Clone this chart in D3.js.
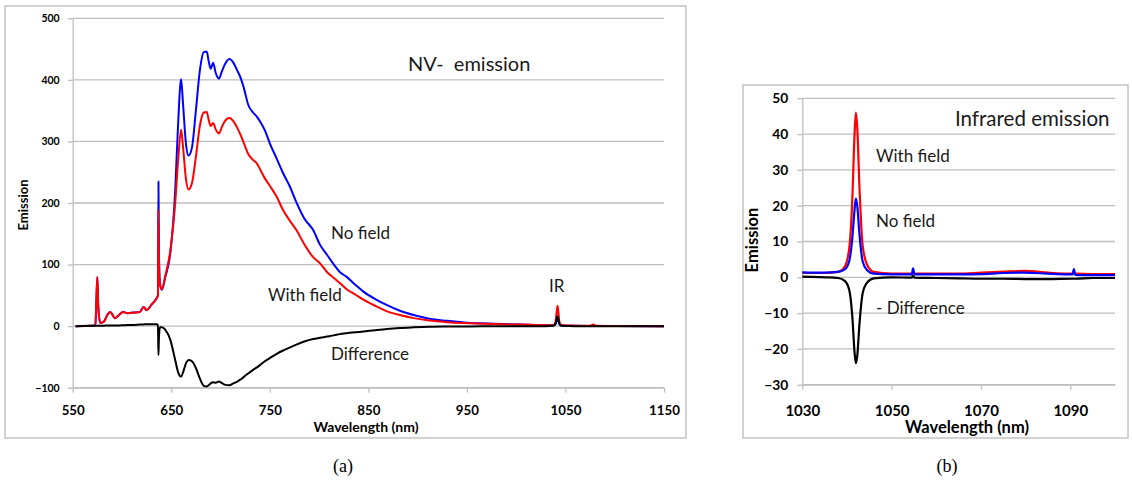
<!DOCTYPE html>
<html>
<head>
<meta charset="utf-8">
<script src="https://cdn.jsdelivr.net/npm/d3@7"></script>
<style>
  html, body { margin: 0; padding: 0; background: #fff; }
  svg { display: block; }
</style>
</head>
<body>
<svg id="chart" width="1132" height="485"></svg>
<script>
// ---------------- DATA: panel (a) NV- emission ----------------
const nvWavelength = [553, 570, 573, 574, 575, 576, 578, 582, 585, 588, 593, 597, 601, 606, 612, 618, 622, 625, 630, 635,
  636.5, 637, 637.5, 638.5, 640.5, 644, 649, 654, 657, 660, 662, 665, 667.5, 671, 675, 679, 683, 686, 688, 690,
  692.5, 695, 698.5, 701, 704, 709, 713, 717, 720, 724, 728, 733, 737, 741, 745, 750, 757, 763, 770, 777,
  785, 794, 801, 808, 815, 821, 828, 837, 845, 857, 869, 882, 896, 912, 930, 947, 965, 985, 1005, 1030,
  1038, 1040, 1042, 1044, 1046, 1060, 1075, 1078, 1081, 1100, 1150];
const nvNoField = [0, 0.5, 1, 40, 80, 30, 5, 8, 18, 23, 13, 18, 23, 21, 22, 23, 31, 26, 35, 45,
  50, 235, 120, 70, 59, 80, 118, 220, 330, 401, 360, 295, 277, 290, 350, 415, 445, 446, 430, 418,
  428, 412, 402, 412, 424, 434, 428, 415, 405, 385, 360, 347, 340, 330, 318, 297, 272, 250, 228, 201,
  175, 156, 132, 116, 100, 88, 80, 67, 56, 44, 34, 25, 18, 12, 8.6, 6, 4.5, 3.5, 2.5, 1.5,
  1.5, 3, 12, 3, 1, 0.5, 0.3, 0.3, 0.3, 0.2, 0];
const nvWithField = [0, 0.5, 1, 40, 80, 30, 5, 8, 18, 23, 13, 18, 23, 21, 22, 23, 31, 26, 35, 45,
  50, 189, 110, 68, 60, 82, 122, 200, 270, 319, 290, 238, 222, 232, 275, 325, 347, 348, 335, 325,
  330, 320, 313, 322, 332, 338, 333, 322, 312, 296, 280, 270, 264, 252, 240, 228, 210, 190, 172, 156,
  133, 112, 102, 88, 78, 70, 60, 51, 43, 33, 24, 18, 13, 9, 6.5, 5, 4, 3, 2.5, 1.5,
  2, 8, 33, 6, 1.5, 0.8, 0.5, 2.5, 0.5, 0.2, 0];
const nvDifference = [0, 0.5, 0.5, 0.5, 0.5, 0.5, 0.5, 0.8, 1, 1, 1, 1.2, 1.5, 1.8, 2, 2.5, 2.8, 3, 3, 3,
  2, -47, -20, -2, -2, -6, -22, -55, -75, -82, -75, -60, -55, -57, -68, -85, -97, -98, -96, -93,
  -91, -92, -90, -92, -95, -96, -93, -90, -87, -82, -77, -71, -67, -62, -57, -52, -45, -40, -35, -30,
  -25, -21, -19, -17, -15, -13, -11.5, -10, -8.7, -6.5, -4.5, -3, -2, -1.1, -0.7, -0.5, -0.3, -0.2, -0.1, 0,
  0.5, 5, 16, 3, 0.5, 0, 0, 0, 0, 0, 0];
const nvXTicks = [550, 650, 750, 850, 950, 1050, 1150];
const nvYTicks = [-100, 0, 100, 200, 300, 400, 500];

// ---------------- DATA: panel (b) Infrared emission ----------------
const irWavelength = [1030, 1035, 1038, 1039.5, 1040.5, 1041.2, 1041.7, 1042, 1042.3, 1042.8, 1043.5, 1044.5, 1046, 1050,
  1054.5, 1054.8, 1055.1, 1060, 1065, 1070, 1075, 1080, 1085, 1090.5, 1090.8, 1091.1, 1095, 1100];
const irWithField = [1.2, 1.2, 1.5, 3, 8, 22, 40, 46, 42, 25, 9, 3.5, 1.5, 1.0,
  1.0, 1.2, 1.0, 1.0, 1.0, 1.3, 1.6, 1.8, 1.3, 1.0, 1.2, 1.0, 0.9, 0.9];
const irNoField = [1.4, 1.3, 1.5, 2.2, 4.5, 11, 19, 22, 20, 12, 4.5, 2, 1.0, 0.8,
  0.8, 2.5, 0.8, 0.8, 0.8, 0.9, 1.2, 1.3, 1.0, 0.8, 2.3, 0.7, 0.6, 0.6];
const irMinusDifference = [0.2, 0, -0.2, -1, -3.5, -11, -21, -24, -22, -13, -4.5, -1.5, -0.3, 0,
  -0.1, 0.4, -0.1, -0.2, -0.3, -0.4, -0.4, -0.5, -0.5, -0.4, -0.4, -0.4, -0.2, -0.2];
const irXTicks = [1030, 1050, 1070, 1090];
const irYTicks = [-30, -20, -10, 0, 10, 20, 30, 40, 50];

// ---------------- STYLE ----------------
const FONT = "Lato, 'Open Sans', sans-serif";
const GRID = "#bfbfbf";
const FRAME = "#c4c4c4";
const BLUE = "#0000ff";
const RED = "#ff0000";

const svg = d3.select("#chart");

function panel(cfg) {
  const g = svg.append("g");
  // frame
  g.append("rect").attr("x", cfg.frame[0]).attr("y", cfg.frame[1])
    .attr("width", cfg.frame[2]).attr("height", cfg.frame[3])
    .attr("fill", "#fff").attr("stroke", FRAME).attr("stroke-width", 1.5);

  const x = d3.scaleLinear().domain(cfg.xDomain).range(cfg.xRange);
  const y = d3.scaleLinear().domain(cfg.yDomain).range(cfg.yRange);
  const fmt = d3.format("d");

  // grid lines
  g.append("g").selectAll("line").data(cfg.yTicks).join("line")
    .attr("x1", x.range()[0]).attr("x2", x.range()[1])
    .attr("y1", d => y(d)).attr("y2", d => y(d))
    .attr("stroke", GRID).attr("stroke-width", 1.3);

  // y axis
  const ya = g.append("g").attr("transform", `translate(${x.range()[0]},0)`)
    .call(d3.axisLeft(y).tickValues(cfg.yTicks).tickFormat(fmt).tickSize(cfg.tickLen).tickSizeOuter(0).tickPadding(cfg.yPad));
  ya.select(".domain").attr("stroke", GRID).attr("stroke-width", 1.3);
  ya.selectAll(".tick line").attr("stroke", GRID).attr("stroke-width", 1.3);
  ya.selectAll(".tick text").attr("font-family", FONT).attr("font-weight", 700)
    .attr("font-size", cfg.yFont).attr("fill", "#000");

  // x axis
  const xa = g.append("g").attr("transform", `translate(0,${y.range()[0]})`)
    .call(d3.axisBottom(x).tickValues(cfg.xTicks).tickFormat(fmt).tickSize(cfg.tickLen).tickSizeOuter(0));
  xa.select(".domain").attr("stroke", GRID).attr("stroke-width", 1.3);
  xa.selectAll(".tick line").attr("stroke", GRID).attr("stroke-width", 1.3);
  xa.selectAll(".tick text").attr("font-family", FONT).attr("font-weight", 700)
    .attr("font-size", cfg.xFont).attr("fill", "#000").attr("dy", null).attr("y", cfg.xLabelY);

  // axis titles
  g.append("text").attr("x", cfg.xTitle[0]).attr("y", cfg.xTitle[1])
    .attr("text-anchor", "middle").attr("font-family", FONT).attr("font-weight", 700)
    .attr("font-size", cfg.xTitleFont).attr("fill", "#000").text("Wavelength (nm)");
  g.append("text").attr("transform", `translate(${cfg.yTitle[0]},${cfg.yTitle[1]}) rotate(-90)`)
    .attr("text-anchor", "middle").attr("font-family", FONT).attr("font-weight", 700)
    .attr("font-size", cfg.yTitleFont).attr("fill", "#000").text("Emission");

  // series
  const plot = g.append("g");
  cfg.series.forEach(s => {
    const line = d3.line().x((d, i) => x(cfg.xs[i])).y(d => y(d)).curve(d3.curveMonotoneX);
    plot.append("path").datum(s.values).attr("d", line)
      .attr("fill", "none").attr("stroke", s.color).attr("stroke-width", s.width || 2)
      .attr("stroke-linejoin", "round");
  });

  // annotations
  cfg.notes.forEach(n => {
    g.append("text").attr("x", n.x).attr("y", n.y).attr("font-family", FONT)
      .attr("font-size", n.size).attr("fill", "#1a1a1a")
      .style("white-space", "pre").attr("xml:space", "preserve").text(n.text);
  });
}

panel({
  frame: [5, 6, 681, 432],
  xDomain: [550, 1150], xRange: [72.7, 664],
  yDomain: [-100, 500], yRange: [387.7, 18.3],
  xTicks: nvXTicks, yTicks: nvYTicks,
  tickLen: 5, yPad: 8, yFont: 10.5, xFont: 13.3, xLabelY: 27,
  xTitle: [366, 432], xTitleFont: 14, yTitle: [28, 205], yTitleFont: 13,
  xs: nvWavelength,
  series: [
    { values: nvNoField, color: BLUE, width: 2 },
    { values: nvWithField, color: RED, width: 2 },
    { values: nvDifference, color: "#000", width: 2 }
  ],
  notes: [
    { text: "NV-  emission", x: 408, y: 71, size: 20 },
    { text: "No field", x: 331, y: 239, size: 17 },
    { text: "With field", x: 268, y: 301, size: 17 },
    { text: "IR", x: 549, y: 292, size: 17 },
    { text: "Difference", x: 331, y: 360, size: 17 }
  ]
});

panel({
  frame: [743, 85, 385, 353],
  xDomain: [1030, 1100], xRange: [802.3, 1115],
  yDomain: [-30, 50], yRange: [384.7, 98.3],
  xTicks: irXTicks, yTicks: irYTicks,
  tickLen: 5, yPad: 9, yFont: 13.8, xFont: 15, xLabelY: 31,
  xTitle: [967, 433], xTitleFont: 16.5, yTitle: [758, 240], yTitleFont: 16.5,
  xs: irWavelength,
  series: [
    { values: irWithField, color: RED, width: 2.2 },
    { values: irNoField, color: BLUE, width: 2.2 },
    { values: irMinusDifference, color: "#000", width: 2.2 }
  ],
  notes: [
    { text: "Infrared emission", x: 955, y: 126, size: 20.5 },
    { text: "With field", x: 876, y: 162, size: 17 },
    { text: "No field", x: 876, y: 227, size: 17 },
    { text: "- Difference", x: 876, y: 314, size: 17 }
  ]
});

// captions
svg.append("text").attr("x", 343).attr("y", 472).attr("text-anchor", "middle")
  .attr("font-family", "'Liberation Serif', 'DejaVu Serif', serif").attr("font-size", 18).text("(a)");
svg.append("text").attr("x", 947).attr("y", 472).attr("text-anchor", "middle")
  .attr("font-family", "'Liberation Serif', 'DejaVu Serif', serif").attr("font-size", 18).text("(b)");
</script>
</body>
</html>
